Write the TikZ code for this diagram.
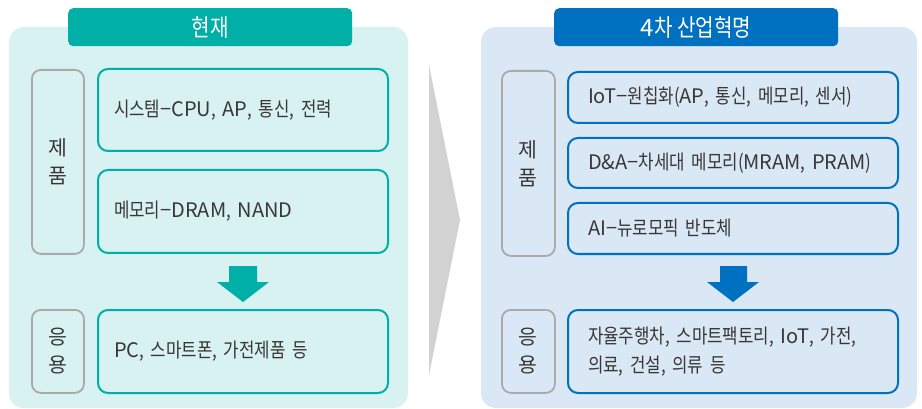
\documentclass[tikz,border=0pt]{standalone}
\usepackage{fontspec}
\setmainfont{Noto Sans CJK KR}[FakeStretch=0.84]
\newfontfamily\ltfont{Noto Sans CJK KR}
\newcommand\lt[1]{{\ltfont #1}}
\usetikzlibrary{calc}
\definecolor{tealc}{RGB}{0,175,165}
\definecolor{leftbg}{RGB}{216,242,241}
\definecolor{bluec}{RGB}{0,112,192}
\definecolor{rightbg}{RGB}{218,232,245}
\definecolor{grayb}{RGB}{170,170,170}
\definecolor{arrowg}{RGB}{210,210,210}
\definecolor{txt}{RGB}{55,55,55}
\tikzset{
  panel/.style={rounded corners=15pt},
  tab/.style={rounded corners=5pt, text=white, font=\fontsize{24}{26}\selectfont},
  lbl/.style={draw=grayb, line width=1.8pt, rounded corners=9pt, anchor=north west,
    minimum width=#1, text=txt, align=center, font=\ltfont\fontsize{20.5}{28}\selectfont, inner sep=0pt},
  itembox/.style={line width=2pt, rounded corners=10pt, anchor=north west,
    inner xsep=16pt, align=left, text=txt, font=\fontsize{20}{29}\selectfont},
  lbox/.style={itembox, draw=tealc, fill=leftbg, text width=258pt},
  rbox/.style={itembox, draw=bluec, fill=rightbg, inner xsep=20pt, text width=290pt},
}
\begin{document}
\begin{tikzpicture}[x=1pt,y=-1pt]
\useasboundingbox (0,0) rectangle (922,409);
% panels
\fill[leftbg, panel] (9,27) rectangle (408,408);
\fill[rightbg, panel] (481,27) rectangle (917,408);
\node[tab, fill=tealc, minimum width=284pt, minimum height=38pt, anchor=north west] (t1) at (68,8) {현재};
\node[tab, fill=bluec, minimum width=284pt, minimum height=38pt, anchor=north west] (t2) at (554,8) {\lt{4}차 산업혁명};
% transition arrow
\fill[arrowg] (429,65) -- (460,220) -- (429,375) -- cycle;
% left panel
\node[lbl=52pt, minimum height=184pt] (l1) at (31,69) {제\\품};
\node[lbox, minimum height=82pt] (a1) at (97,68) {시스템\lt{−CPU}, \lt{AP}, 통신, 전력};
\node[lbox, minimum height=83pt] (a2) at (97,169) {메모리\lt{−DRAM}, \lt{NAND}};
\node[lbl=52pt, minimum height=83pt] (l2) at (31,309) {응\\용};
\node[lbox, minimum height=83pt] (a3) at (97,309) {\lt{PC}, 스마트폰, 가전제품 등};
\fill[tealc] ($(a2.south)+(-14,12)$) -- ++(28,0) -- ++(0,16) -- ++(12,0)
  -- ($(a2.south)+(0,48)$) -- ($(a2.south)+(-26,28)$) -- ++(12,0) -- cycle;
% right panel
\node[lbl=53pt, minimum height=185pt] (r1) at (501,70) {제\\품};
\node[rbox, minimum height=51pt] (b1) at (567,71) {\lt{IoT−}원칩화(\lt{AP}, 통신, 메모리, 센서)};
\node[rbox, minimum height=50pt] (b2) at (567,137) {\lt{D\&A−}차세대 메모리(\lt{MRAM}, \lt{PRAM})};
\node[rbox, minimum height=51pt] (b3) at (567,202) {\lt{AI−}뉴로모픽 반도체};
\node[lbl=53pt, minimum height=83pt] (r2) at (501,309) {응\\용};
\node[rbox, minimum height=83pt] (b4) at (567,309) {\mbox{자율주행차, 스마트팩토리, \lt{IoT}, 가전,}\\의료, 건설, 의류 등};
\fill[bluec] ($(b3.south)+(-13,11)$) -- ++(27,0) -- ++(0,16) -- ++(12,0)
  -- ($(b3.south)+(0,47)$) -- ($(b3.south)+(-26,27)$) -- ++(13,0) -- cycle;
\end{tikzpicture}
\end{document}
